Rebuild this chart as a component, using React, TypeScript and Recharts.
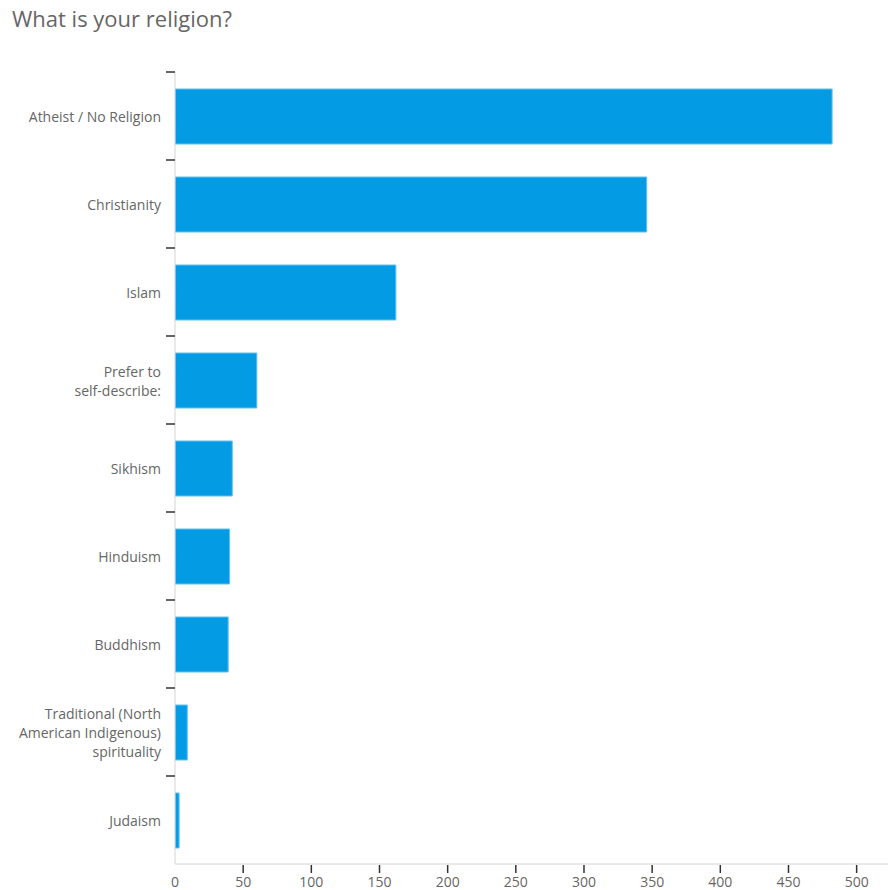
import React from 'react'
import { BarChart, Bar, XAxis, YAxis } from 'recharts'

const religions = [
  'Atheist / No Religion',
  'Christianity',
  'Islam',
  'Prefer to\nself-describe:',
  'Sikhism',
  'Hinduism',
  'Buddhism',
  'Traditional (North\nAmerican Indigenous)\nspirituality',
  'Judaism',
]
const counts = [482, 346, 162, 60, 42, 40, 39, 9, 3]
const xTicks = [0, 50, 100, 150, 200, 250, 300, 350, 400, 450, 500]

const data = religions.map((name, i) => ({ name, value: counts[i] }))

const FONT = '"Open Sans", "Noto Sans", sans-serif'
const BAND = 88

function CategoryTick({ x, y, payload }: any) {
  const lines = String(payload.value).split('\n')
  const lh = 19
  const start = y - ((lines.length - 1) * lh) / 2
  return (
    <g>
      <line x1={x - 9} x2={x} y1={y - BAND / 2} y2={y - BAND / 2} stroke="#333" strokeWidth={1.5} />
      <text x={x - 14} y={start} textAnchor="end" fill="#666" fontSize={14} fontFamily={FONT} dominantBaseline="central">
        {lines.map((l, i) => (
          <tspan key={i} x={x - 14} dy={i === 0 ? 0 : lh}>
            {l}
          </tspan>
        ))}
      </text>
    </g>
  )
}

function ValueTick({ x, y, payload }: any) {
  return (
    <g>
      {payload.value !== 0 && <line x1={x} x2={x} y1={y + 1} y2={y + 9} stroke="#333" strokeWidth={1.5} />}
      <text x={x} y={y + 17} textAnchor="middle" fill="#666" fontSize={14} fontFamily={FONT} dominantBaseline="central">
        {payload.value}
      </text>
    </g>
  )
}

export default function App() {
  return (
    <div style={{ position: 'fixed', left: 0, top: 0, width: 890, height: 890, background: '#fff' }}>
      <div
        style={{
          position: 'absolute',
          left: 12,
          top: 3,
          fontFamily: FONT,
          fontSize: 22,
          color: '#666',
        }}
      >
        What is your religion?
      </div>
      <BarChart
        width={890}
        height={890}
        data={data}
        layout="vertical"
        margin={{ top: 72, right: 2, bottom: 0, left: 0 }}
        barSize={55}
      >
        <XAxis
          type="number"
          domain={[0, 523]}
          ticks={xTicks}
          allowDataOverflow
          height={26}
          stroke="#d4d4d4"
          tickLine={false}
          tickSize={0}
          tickMargin={0}
          tick={<ValueTick />}
          interval={0}
        />
        <YAxis
          type="category"
          dataKey="name"
          width={175}
          stroke="#d4d4d4"
          tickLine={false}
          tickSize={0}
          tickMargin={0}
          tick={<CategoryTick />}
          interval={0}
        />
        <Bar dataKey="value" fill="#049be5" stroke="#5cc0f0" strokeWidth={1} isAnimationActive={false} />
      </BarChart>
    </div>
  )
}
